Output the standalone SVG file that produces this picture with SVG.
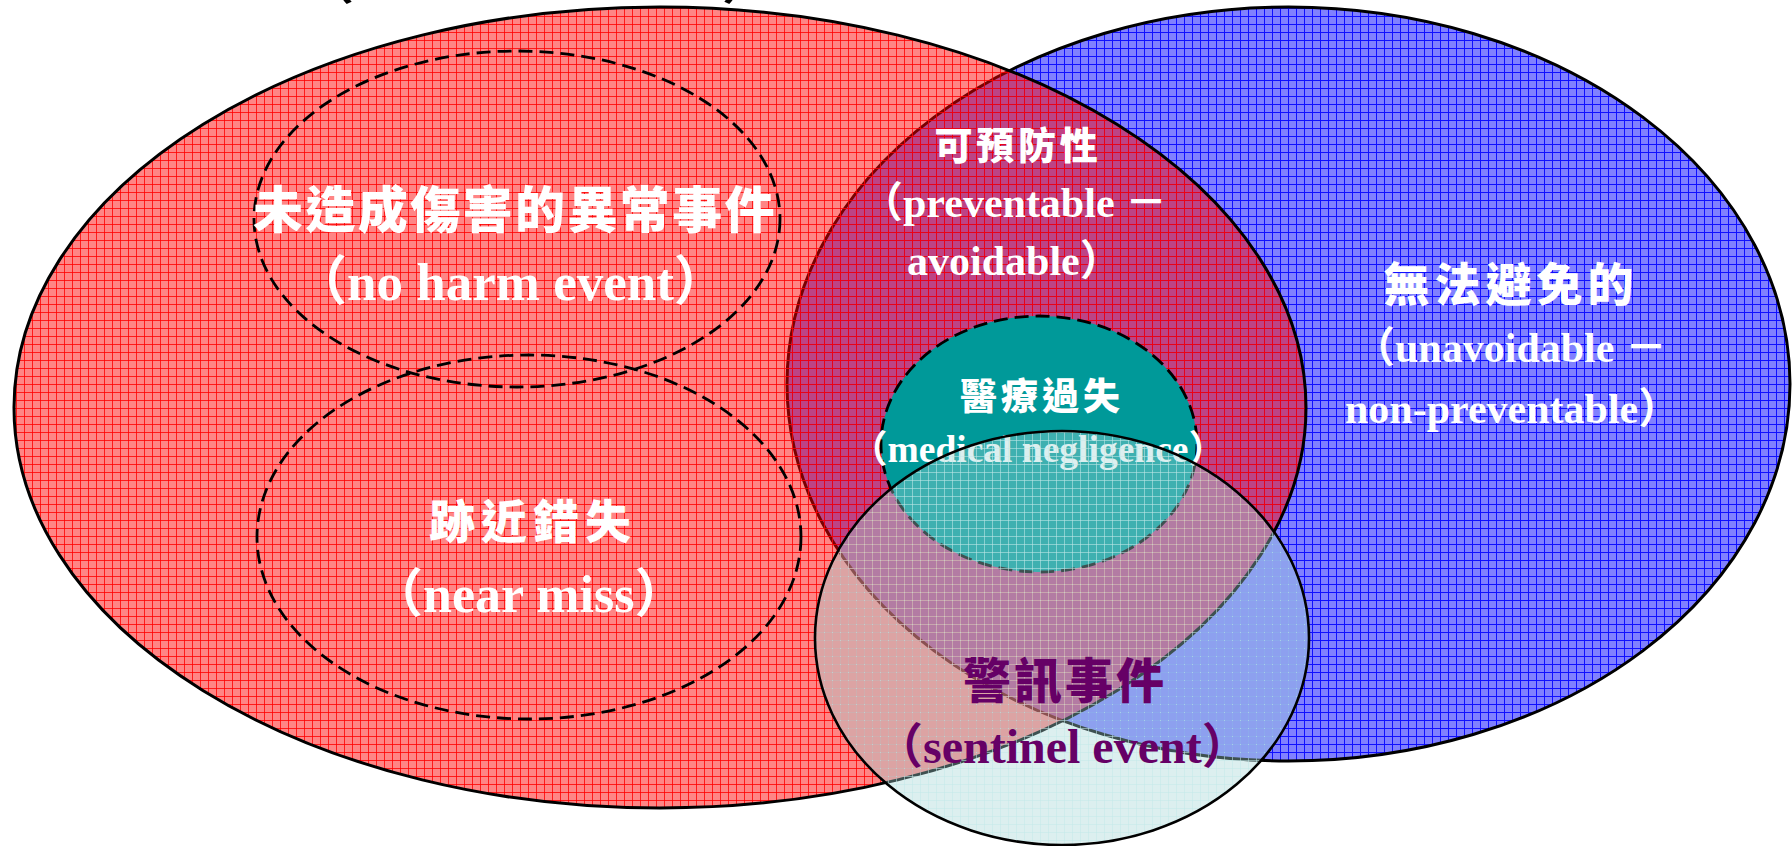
<svg xmlns="http://www.w3.org/2000/svg" width="1792" height="846" viewBox="0 0 1792 846">
<style>
.cjk{font-family:"Noto Sans CJK TC","Noto Sans CJK SC",sans-serif;font-weight:900;text-anchor:middle}
.en{font-family:"Liberation Serif","Noto Sans CJK TC",serif;font-weight:700}
.w{fill:#ffffff}
.p{fill:#660066}
.outline{stroke:#000000;stroke-width:3}
.dash{fill:none;stroke:#000000;stroke-width:2.8;stroke-dasharray:14 7}
.teal{fill:#009999;stroke:#000000;stroke-width:2.8;stroke-dasharray:14 7}
</style>
<defs>
<pattern id="gridBlue" width="8" height="8" patternUnits="userSpaceOnUse">
<rect width="8" height="8" fill="#8080ff"/>
<path d="M0 0.5H8M0.5 0V8" stroke="#1010ff" stroke-width="1"/>
</pattern>
<pattern id="gridRed" width="8" height="8" patternUnits="userSpaceOnUse">
<rect width="8" height="8" fill="#ff0000" fill-opacity="0.48"/>
<path d="M0 0.5H8M0.5 0V8" stroke="#ff0000" stroke-opacity="0.8" stroke-width="1"/>
</pattern>
<pattern id="gridCyan" width="8" height="8" patternUnits="userSpaceOnUse">
<rect width="8" height="8" fill="#a4d6d6" fill-opacity="0.38"/>
<path d="M0 0.5H8M0.5 0V8" stroke="#c4e8e8" stroke-opacity="0.55" stroke-width="1"/>
</pattern>
</defs>

<g id="top-cut-text">
<text class="en" x="302" y="-1" font-size="52" fill="#000000">（</text>
<text class="en" x="722" y="-1" font-size="52" fill="#000000">）</text>
</g>

<g id="unavoidable">
<ellipse cx="1288.5" cy="384" rx="501.5" ry="377" fill="url(#gridBlue)" class="outline"/>
<text class="cjk w" x="1511" y="301" font-size="46" letter-spacing="5">無法避免的</text>
<text class="en w" x="1353" y="362" font-size="42">（unavoidable －</text>
<text class="en w" x="1345" y="423" font-size="42">non-preventable）</text>
</g>

<g id="adverse-events">
<ellipse cx="660" cy="407.5" rx="646" ry="400.5" fill="url(#gridRed)" class="outline"/>
</g>

<g id="no-harm-event">
<ellipse cx="517" cy="219" rx="263" ry="168" class="dash"/>
<text class="cjk w" x="515" y="228" font-size="50" letter-spacing="2.4">未造成傷害的異常事件</text>
<text class="en w" x="294" y="300" font-size="53">（no harm event）</text>
</g>

<g id="near-miss">
<ellipse cx="529" cy="537" rx="272" ry="182" class="dash"/>
<text class="cjk w" x="533" y="538" font-size="46" letter-spacing="6">跡近錯失</text>
<text class="en w" x="371" y="612" font-size="52">（near miss）</text>
</g>

<g id="preventable">
<text class="cjk w" x="1018" y="159" font-size="38" letter-spacing="3.75">可預防性</text>
<text class="en w" x="861" y="217" font-size="42">（preventable －</text>
<text class="en w" x="907" y="275" font-size="42">avoidable）</text>
</g>

<g id="medical-negligence">
<ellipse cx="1039" cy="444" rx="158" ry="128" class="teal"/>
<text class="cjk w" x="1042" y="410" font-size="37" letter-spacing="4">醫療過失</text>
<text class="en w" x="850" y="462" font-size="37.5">（medical negligence）</text>
</g>

<g id="sentinel-event">
<ellipse cx="1062" cy="638" rx="247" ry="207" fill="url(#gridCyan)" stroke="#000000" stroke-width="2.6"/>
<text class="cjk p" x="1065" y="698" font-size="48" letter-spacing="3">警訊事件</text>
<text class="en p" x="875" y="763" font-size="48">（sentinel event）</text>
</g>

<g id="connectors"></g>
</svg>
